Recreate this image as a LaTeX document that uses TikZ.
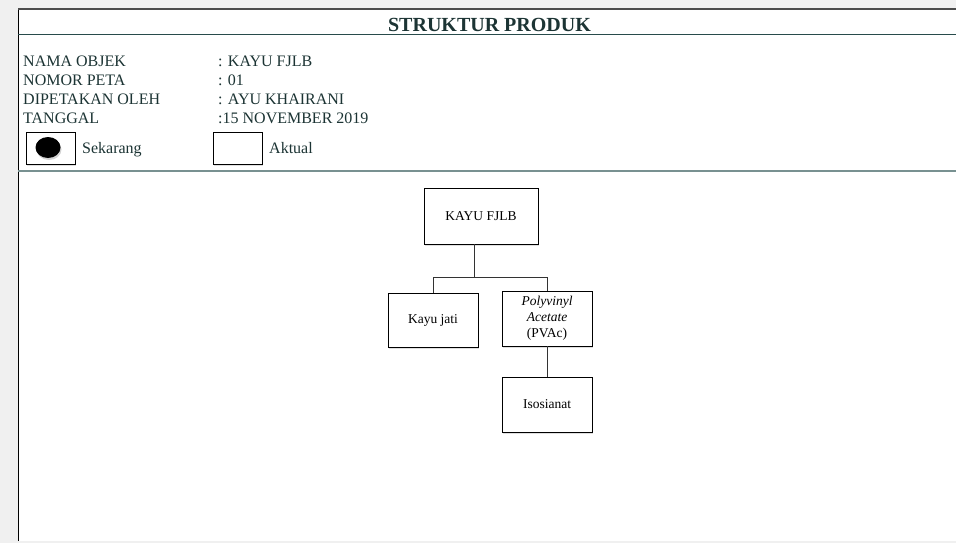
\documentclass[tikz,border=0pt]{standalone}
\usepackage{fontspec}
\setmainfont{Liberation Serif}
\usetikzlibrary{shadows}
\definecolor{hdr}{RGB}{28,52,52}
\definecolor{tline}{RGB}{40,75,75}
\definecolor{sepline}{RGB}{120,145,145}
\definecolor{bggray}{RGB}{240,240,240}
\tikzset{
  box/.style={draw=black, line width=0.9pt, fill=white, minimum width=90pt, minimum height=55pt,
    inner sep=0pt, align=center, font=\fontsize{13.5}{16}\selectfont,
    drop shadow={shadow xshift=0.8pt, shadow yshift=-1.5pt, opacity=0.25}},
  lbl/.style={anchor=base west, inner sep=0pt, text=hdr, font=\fontsize{16}{19}\selectfont},
  legbox/.style={draw=black, line width=0.9pt, fill=white, minimum width=49pt, minimum height=32pt, inner sep=0pt,
    drop shadow={shadow xshift=0.8pt, shadow yshift=-1.5pt, opacity=0.25}},
  conn/.style={draw=black!80, line width=0.9pt}
}
\begin{document}
\begin{tikzpicture}[x=1pt,y=-1pt]
\useasboundingbox (0,0) rectangle (956,543);
\fill[bggray] (0,0) rectangle (956,543);
\fill[white] (18,9) rectangle (956,541);
% frame
\draw[black, line width=0.8pt] (18,9) -- (18,541);
\draw[black!70, line width=1.3pt] (18,9) -- (956,9);
\draw[tline, line width=0.9pt] (18,34) -- (956,34);
\draw[sepline, line width=1.5pt] (18,171) -- (956,171);
% title
\node[anchor=base, inner sep=0pt, text=hdr, font=\fontsize{20}{24}\selectfont\bfseries] (title) at (489.5,32) {STRUKTUR PRODUK};
% header info
\node[lbl] (l1) at (23,66.5) {NAMA OBJEK};
\node[lbl] (l2) at (23,85.5) {NOMOR PETA};
\node[lbl] (l3) at (23,104.5) {DIPETAKAN OLEH};
\node[lbl] (l4) at (23,123.5) {TANGGAL};
\node[lbl] (v1) at (218,66.5) {: KAYU FJLB};
\node[lbl] (v2) at (218,85.5) {: 01};
\node[lbl] (v3) at (218,104.5) {: AYU KHAIRANI};
\node[lbl] (v4) at (218,123.5) {:15 NOVEMBER 2019};
% legend
\node[legbox] (lg1) at (50.5,148) {};
\fill[black, drop shadow={shadow xshift=1pt, shadow yshift=-2pt, opacity=0.35}] (48,147.5) ellipse [x radius=12.5, y radius=10.5];
\node[lbl] (sek) at (82,153.5) {Sekarang};
\node[legbox] (lg2) at (237.5,148) {};
\node[lbl] (akt) at (269,153.5) {Aktual};
% diagram
\node[box, minimum width=114pt, minimum height=56pt] (kayu) at (481,216) {KAYU FJLB};
\node[box, minimum height=54pt] (jati) at (433,320) {Kayu jati};
\node[box] (pvac) at (547,318.5) {\textit{Polyvinyl}\\\textit{Acetate}\\(PVAc)};
\node[box] (iso) at (547,404.5) {Isosianat};
\draw[conn] ([xshift=-7pt]kayu.south) -- ++(0,33) coordinate (j);
\draw[conn] (jati.north) |- (j) -| (pvac.north);
\draw[conn] (pvac.south) -- (iso.north);
\end{tikzpicture}
\end{document}
